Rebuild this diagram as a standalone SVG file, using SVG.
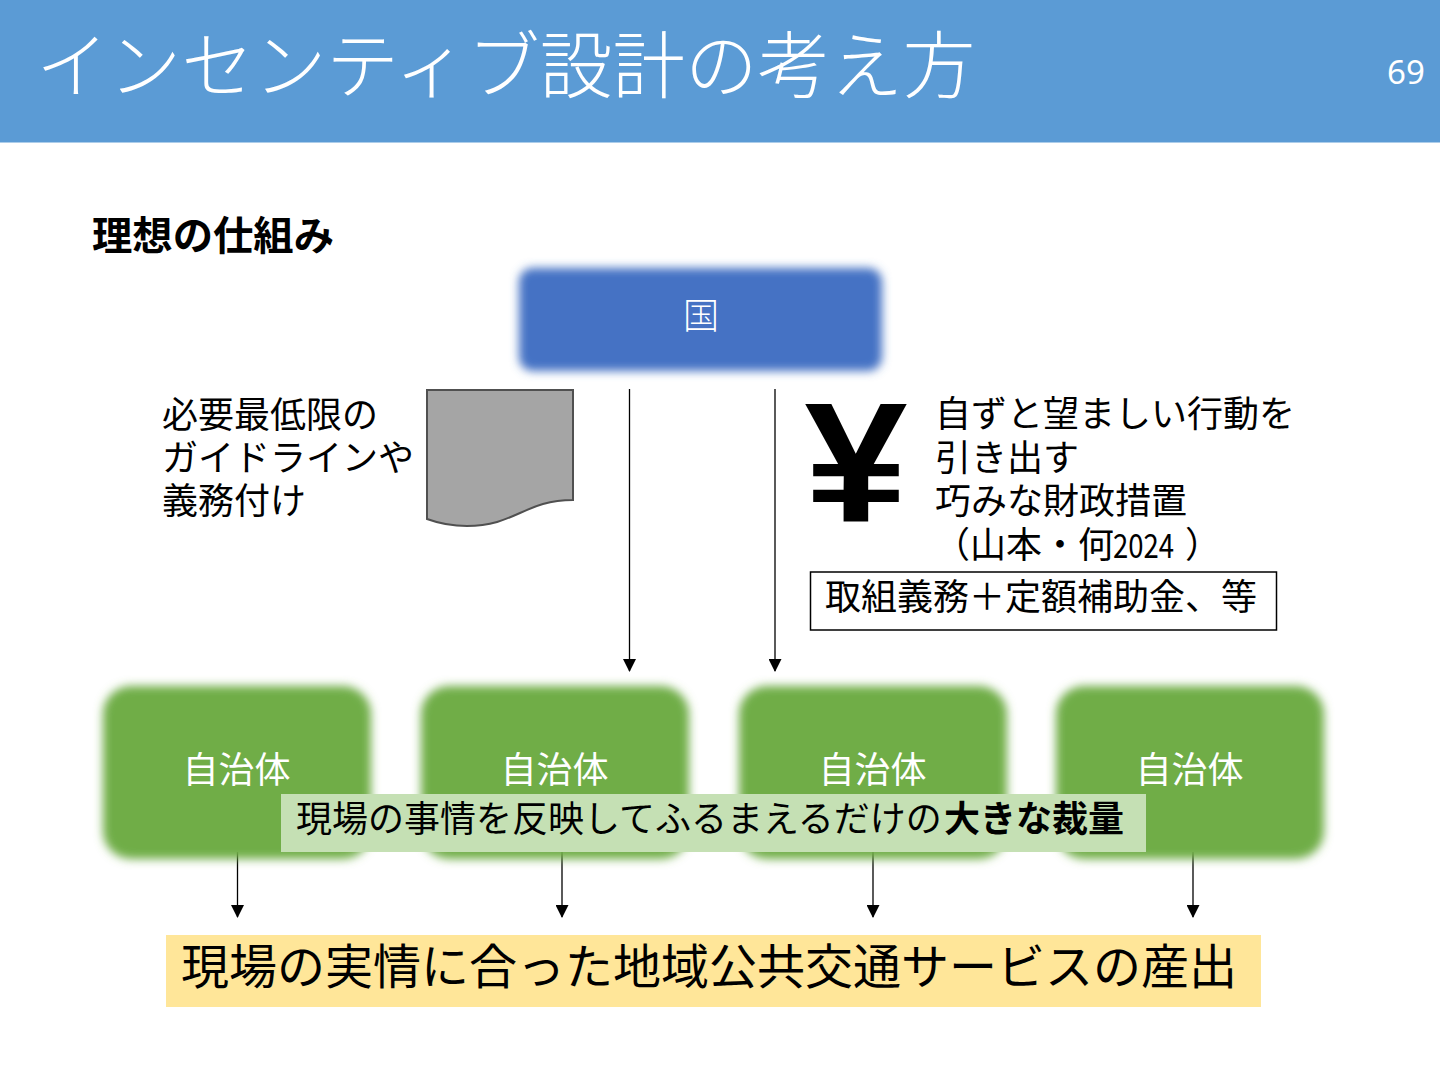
<svg xmlns="http://www.w3.org/2000/svg" width="1440" height="1080" viewBox="0 0 1440 1080">
<style>
text{font-family:"Noto Sans CJK JP","Noto Sans",sans-serif;fill:#000;font-weight:400}
.w{fill:#fff}
.c{text-anchor:middle}
.l{stroke:#000;stroke-width:1.300;fill:none;marker-end:url(#a)}
.t{font-size:36px}
</style>
<defs>
<marker id="a" markerUnits="userSpaceOnUse" markerWidth="13" markerHeight="13" refX="12" refY="6.500" orient="auto"><path d="M0 0L13 6.500L0 13Z" fill="#000"/></marker>
<filter id="b" x="-10%" y="-10%" width="120%" height="120%"><feGaussianBlur stdDeviation="5"/></filter>
</defs>
<rect width="1440" height="1080" fill="#fff"/>
<g id="header"><rect width="1440" height="142.500" fill="#5b9bd5"/>
<text class="w" x="36" y="92" font-size="72.600" style="font-weight:300">インセンティブ設計の考え方</text>
<text class="w" x="1387" y="84" font-size="33" style="font-family:'Noto Sans',sans-serif">69</text></g>
<text x="92" y="250" font-size="40" style="font-weight:700" textLength="242" lengthAdjust="spacingAndGlyphs">理想の仕組み</text>
<g id="kuni"><rect x="519" y="268" width="363" height="103" rx="14" fill="#4472c4" filter="url(#b)"/><text class="w c t" x="701" y="329" style="font-weight:300">国</text></g>
<g id="doc"><path d="M427 390H573V500C525 500 515 526 467 526C450 526 438 523 427 519Z" fill="#a5a5a5" stroke="#505050" stroke-width="2"/>
<text class="t" x="162" y="428">必要最低限の</text>
<text class="t" x="162" y="471">ガイドラインや</text>
<text class="t" x="162" y="514">義務付け</text></g>
<g id="connectors">
<path class="l" d="M629.500 389V671"/><path class="l" d="M775 389V671"/>
<path class="l" d="M237.500 852V917"/><path class="l" d="M562 852V917"/><path class="l" d="M873 852V917"/><path class="l" d="M1193 852V917"/>
</g>
<g id="money">
<text x="856" y="522" text-anchor="middle" font-size="170" style="font-family:'Liberation Sans',sans-serif;font-weight:700" textLength="103" lengthAdjust="spacingAndGlyphs">¥</text>
<text class="t" x="935" y="427">自ずと望ましい行動を</text>
<text class="t" x="935" y="471">引き出す</text>
<text class="t" x="935" y="514">巧みな財政措置</text>
<text class="t" x="934" y="558">（山本・何</text>
<text x="1113" y="558" font-size="34" textLength="61" lengthAdjust="spacingAndGlyphs">2024</text>
<text class="t" x="1185" y="558">）</text>
<rect x="810.500" y="572" width="466" height="58" fill="#fff" stroke="#000" stroke-width="1.500"/>
<text class="t" x="825" y="610">取組義務＋定額補助金、等</text></g>
<g id="j1"><rect x="103" y="686" width="268" height="173" rx="28" fill="#70ad47" filter="url(#b)"/><text class="w c t" x="236.500" y="783">自治体</text></g>
<g id="j2"><rect x="421" y="686" width="268" height="173" rx="28" fill="#70ad47" filter="url(#b)"/><text class="w c t" x="554.500" y="783">自治体</text></g>
<g id="j3"><rect x="739" y="686" width="268" height="173" rx="28" fill="#70ad47" filter="url(#b)"/><text class="w c t" x="872.500" y="783">自治体</text></g>
<g id="j4"><rect x="1056" y="686" width="268" height="173" rx="28" fill="#70ad47" filter="url(#b)"/><text class="w c t" x="1189.500" y="783">自治体</text></g>
<g id="discretion"><rect x="281" y="794" width="865" height="58" fill="#c5e0b4"/>
<text class="t" x="296" y="832">現場の事情を反映してふるまえるだけの<tspan style="font-weight:700" x="944">大きな裁量</tspan></text></g>
<g id="result"><rect x="166" y="935" width="1095" height="72" fill="#ffe699"/>
<text x="181" y="984" font-size="48">現場の実情に合った地域公共交通サービスの産出</text></g>
</svg>
